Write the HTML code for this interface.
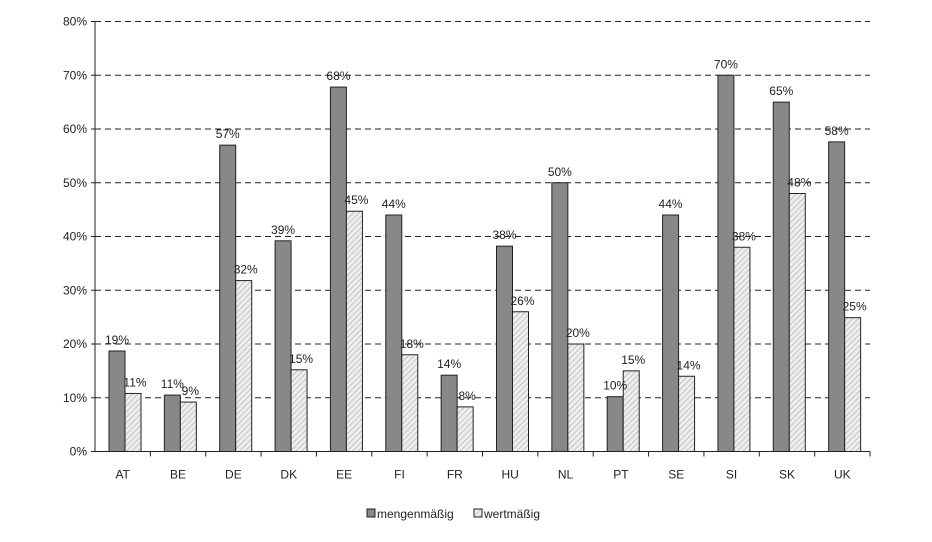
<!DOCTYPE html>
<html><head><meta charset="utf-8"><style>
body{margin:0;background:#fff;}
svg text{font-family:"Liberation Sans",Arial,sans-serif;fill:#222;}
</style></head><body>
<svg width="932" height="537">
<defs>
<pattern id="hatch" width="4" height="4" patternUnits="userSpaceOnUse" patternTransform="rotate(45)">
<rect width="4" height="4" fill="#eee"/><line x1="0" y1="0" x2="0" y2="4" stroke="#aaa" stroke-width="1.2"/>
</pattern>
</defs>
<g id="grid"></g><g id="bars"></g><g id="axes"></g>
<g>
<rect x="367" y="509" width="8" height="8" fill="#888" stroke="#222"/>
<text x="377" y="518" font-size="12">mengenmäßig</text>
<rect x="474" y="509" width="8" height="8" fill="url(#hatch)" stroke="#222"/>
<text x="484" y="518" font-size="12">wertmäßig</text>
</g>
</svg>
<script>
const categories=["AT","BE","DE","DK","EE","FI","FR","HU","NL","PT","SE","SI","SK","UK"];
const mengen=[18.7,10.5,57,39.2,67.8,44,14.2,38.2,50,10.2,44,70,65,57.6];
const wert=[10.8,9.2,31.8,15.2,44.7,18,8.3,26,20,15,14,38,48,24.9];
const mengenLabels=["19%","11%","57%","39%","68%","44%","14%","38%","50%","10%","44%","70%","65%","58%"];
const wertLabels=["11%","9%","32%","15%","45%","18%","8%","26%","20%","15%","14%","38%","48%","25%"];
const yTicks=[0,10,20,30,40,50,60,70,80];
const NS="http://www.w3.org/2000/svg";
const X0=95,X1=870,Y0=451.5,YT=21.5,YMAX=80;
const cw=(X1-X0)/categories.length;
function y(v){return Y0-(v/YMAX)*(Y0-YT);}
function xc(i){return X0+i*cw;}
function mk(tag,attrs,parent){const e=document.createElementNS(NS,tag);for(const k in attrs)e.setAttribute(k,attrs[k]);parent.appendChild(e);return e;}
const grid=document.getElementById('grid'),bars=document.getElementById('bars'),axes=document.getElementById('axes');
yTicks.forEach(t=>{
  if(t>0){const l=mk('line',{x1:X0,x2:X1,y1:y(t),y2:y(t),stroke:'#222','stroke-dasharray':'6,4'},grid);
  
  }
  const tx=mk('text',{x:X0-8,y:y(t)+4,'text-anchor':'end','font-size':12},axes);
  tx.textContent=t+'%';
  
  
  mk('line',{x1:X0-4,x2:X0,y1:y(t),y2:y(t),stroke:'#222'},axes);
});
const bw=16;
categories.forEach((c,i)=>{
  const bx=xc(i)+14;
  const r1=mk('rect',{x:bx,y:y(mengen[i]),width:bw,height:Y0-y(mengen[i]),fill:'#888',stroke:'#222'},bars);
  
  
  const r2=mk('rect',{x:bx+bw,y:y(wert[i]),width:bw,height:Y0-y(wert[i]),fill:'url(#hatch)',stroke:'#222'},bars);
  
  
  const t1=mk('text',{x:bx+bw/2,y:y(mengen[i])-7,'text-anchor':'middle','font-size':12},bars);
  t1.textContent=mengenLabels[i];
  
  
  const t2=mk('text',{x:bx+bw+bw/2+2,y:y(wert[i])-7,'text-anchor':'middle','font-size':12},bars);
  t2.textContent=wertLabels[i];
  
  
  const cl=mk('text',{x:xc(i)+cw/2,y:Y0+27,'text-anchor':'middle','font-size':12},axes);
  cl.textContent=c;
  
  
  mk('line',{x1:xc(i+1),x2:xc(i+1),y1:Y0,y2:Y0+5,stroke:'#222'},axes);
});
mk('line',{x1:X0,x2:X0,y1:YT,y2:Y0,stroke:'#222'},axes);
mk('line',{x1:X0,x2:X1,y1:Y0,y2:Y0,stroke:'#222'},axes);
</script>
</body></html>
